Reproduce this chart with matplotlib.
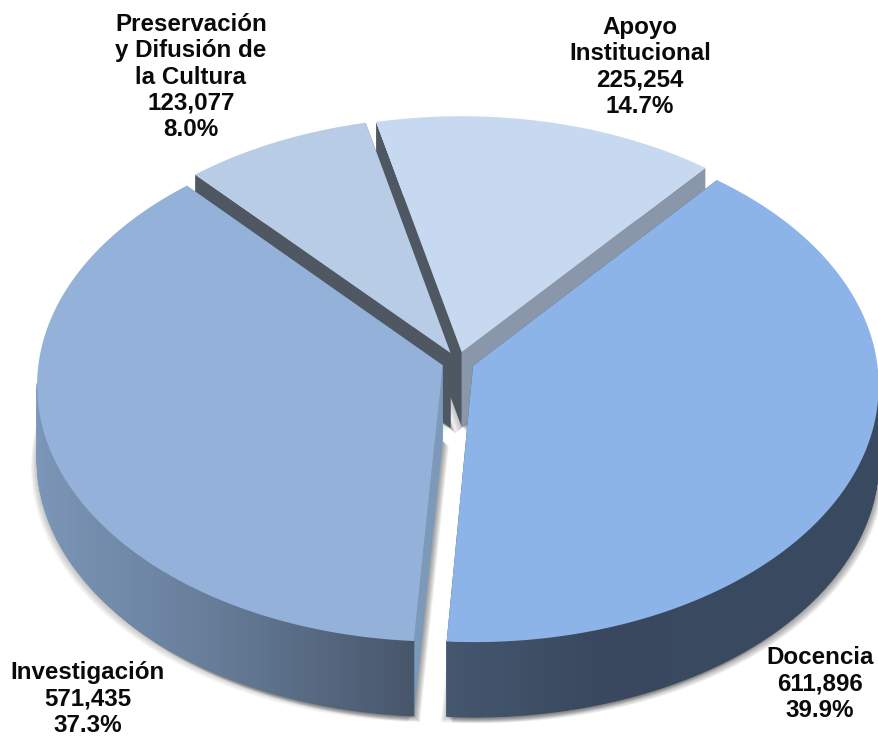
import numpy as np
import matplotlib
matplotlib.use("Agg")
import matplotlib.pyplot as plt
from matplotlib.colors import to_rgb

categorias = ["Docencia", "Investigación", "Preservación\ny Difusión de\nla Cultura", "Apoyo\nInstitucional"]
valores = [611896, 571435, 123077, 225254]
porcentajes = [39.9, 37.3, 8.0, 14.7]

# estilo de cada rebanada
col_top = ["#8cb4e8", "#93b1d9", "#b8cce6", "#c6d9f1"]
col_corte_ini = ["#3a4a61", "#7c99ba", "#4f5862", "#4f5862"]
col_corte_fin = ["#3a4a61", "#7c99ba", "#4f5862", "#8a97ab"]
# degradado del canto: (x, color)
col_canto = [
    [(445, "#44576f"), (600, "#39485e"), (878, "#394a60")],
    [(37, "#7b96b8"), (200, "#687f9c"), (413, "#47566a")],
    [(0, "#4f5862"), (879, "#4f5862")],
    [(0, "#8a97ab"), (879, "#8a97ab")],
]
pos_texto = [(820, 684), (88, 699), (191, 77), (640, 67)]

CX, CY = 458, 362
A, B, K = 404, 255, 0.075
PROF = 75
EXPLODE = 0.04
INICIO = 50.2


def proy(x, y):
    f = 1 + K * y
    return CX + A * x / f, CY - B * y / f


def color_canto(stops, x):
    xs = [s[0] for s in stops]
    rgb = np.array([to_rgb(s[1]) for s in stops])
    return [np.interp(x, xs, rgb[:, i]) for i in range(3)]


fig, ax = plt.subplots(figsize=(8.79, 7.37), dpi=100)
fig.subplots_adjust(0, 0, 1, 1)
ax.set_xlim(0, 879)
ax.set_ylim(737, 0)
ax.axis("off")

sweep = np.array(valores) / sum(valores) * 360
fin = INICIO - np.cumsum(sweep)
ini = fin + sweep

# atras primero
z = 1
for i in [3, 2, 1, 0]:
    med = np.radians((ini[i] + fin[i]) / 2)
    ox, oy = EXPLODE * np.cos(med), EXPLODE * np.sin(med)
    t = np.radians(np.linspace(ini[i], fin[i], 200))
    rx, ry = proy(ox + np.cos(t), oy + np.sin(t))
    px, py = proy(ox, oy)

    xs = np.r_[px, rx]
    ys = np.r_[py, ry]

    # sombra suave
    for d in [6, 5, 4, 3, 2, 1]:
        ax.fill(xs + d, ys + PROF + d, color="black", alpha=0.07, lw=0, zorder=z)
        ax.fill(xs - d, ys + PROF + d, color="black", alpha=0.04, lw=0, zorder=z)
    z += 1

    # caras del corte
    ax.fill([px, rx[0], rx[0], px], [py, ry[0], ry[0] + PROF, py + PROF],
            color=col_corte_ini[i], lw=0, zorder=z)
    ax.fill([px, rx[-1], rx[-1], px], [py, ry[-1], ry[-1] + PROF, py + PROF],
            color=col_corte_fin[i], lw=0, zorder=z)
    z += 1

    # canto con degradado, solo la parte de frente
    for j in range(len(rx) - 1):
        if np.sin(t[j]) > -0.075:
            continue
        c = color_canto(col_canto[i], (rx[j] + rx[j + 1]) / 2)
        ax.fill([rx[j], rx[j + 1], rx[j + 1], rx[j]],
                [ry[j], ry[j + 1], ry[j + 1] + PROF, ry[j] + PROF],
                color=c, lw=0.6, zorder=z)
    z += 1

    # tapa
    ax.fill(xs, ys, color=col_top[i], lw=0, zorder=z)
    z += 1

for i in range(4):
    txt = f"{categorias[i]}\n{valores[i]:,}\n{porcentajes[i]:.1f}%"
    ax.text(pos_texto[i][0], pos_texto[i][1], txt, ha="center", va="center",
            family="Liberation Sans", weight="bold", fontsize=17.4, color="#0a0a0a",
            linespacing=1.19, zorder=50)

fig.savefig("out.png", dpi=100)
